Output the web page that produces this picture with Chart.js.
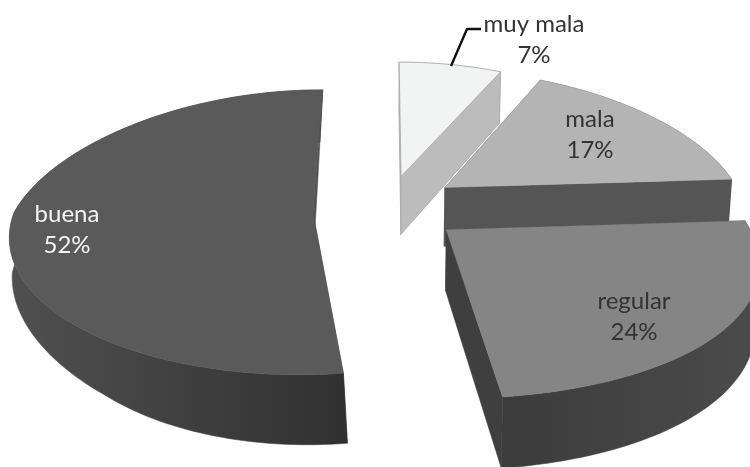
<!DOCTYPE html>
<html>
<head>
<meta charset="utf-8">
<style>html,body{margin:0;padding:0;background:#fff}canvas{display:block}</style>
<script src="https://cdn.jsdelivr.net/npm/chart.js@4"></script>
</head>
<body>
<canvas id="c" width="750" height="467"></canvas>
<script>
const categories = ['muy mala', 'mala', 'regular', 'buena'];
const percents = [7, 17, 24, 52];
const topColors = ['#f2f4f3', '#b4b4b4', '#858585', '#5a5a5a'];
const cutColors = ['#bcbcbc', '#555555', '#3e3f3e', '#515151'];
const wallLeft = ['#bcbcbc', '#555555', '#4b4b4b', '#505050'];
const wallRight = ['#bcbcbc', '#4a4a4a', '#3b3c3b', '#303130'];
const textColors = ['#333333', '#333333', '#333333', '#f4f4f4'];
const explode = [41, 43, 35, 43];
const nudgeX = [-8, -13, 2, 0];
const nudgeY = [0, -2, 0, 0];
const frontBulge = [0, 0, 0.08, 0];
const startCutUnderWall = [false, false, false, true];
const labelX = [534, 590, 634, 67];
const labelY = [24, 119, 301, 214];

// Camera of the tilted pie
const cam = {cx: 393, cy: 210, rx: 298, ry: 139, persp: 0.14, perspX: 0.08, depth: 60};

function lowScale(X, Y) {
  if (X >= 0) return 0.988;
  return 1 - Math.max(-0.04, Math.min(0.08, 0.114 * (Y - 0.06)));
}

function project(el, i, angle, down) {
  const d = el.options.offset / el.outerRadius;
  const mid = (el.startAngle + el.endAngle) / 2;
  const hasRim = angle !== null;
  const b = hasRim ? Math.sin(angle) : 0;
  const widen = 1 + cam.perspX * Math.min(b, 0) + frontBulge[i] * Math.max(b, 0);
  const rimX = hasRim ? Math.cos(angle) * widen : 0;
  const X = Math.cos(mid) * d + rimX;
  const Y = Math.sin(mid) * d + b;
  const w = 1 - cam.persp * Y;
  const sx = down ? lowScale(X, Y) : 1;
  return {
    x: cam.cx + sx * cam.rx * X / w + nudgeX[i],
    y: cam.cy + cam.ry * Y / w + (down ? cam.depth / w : 0) + nudgeY[i]
  };
}

function poly(ctx, pts, fill, stroke) {
  ctx.beginPath();
  pts.forEach((p, k) => k ? ctx.lineTo(p.x, p.y) : ctx.moveTo(p.x, p.y));
  ctx.closePath();
  ctx.fillStyle = fill;
  ctx.fill();
  ctx.strokeStyle = stroke || fill;
  ctx.lineWidth = stroke ? 0.8 : 0.5;
  ctx.stroke();
}

const pie3d = {
  id: 'pie3d',
  beforeDatasetsDraw(chart) {
    const ctx = chart.ctx;
    const arcs = chart.getDatasetMeta(0).data;
    ctx.save();
    ctx.lineJoin = 'round';
    [0, 1, 3, 2].forEach(i => {
      const el = arcs[i];
      const n = Math.max(8, Math.ceil((el.endAngle - el.startAngle) * 40));
      const rim = [];
      for (let k = 0; k <= n; k++) rim.push(el.startAngle + (el.endAngle - el.startAngle) * k / n);
      const apexTop = project(el, i, null, false);
      const apexLow = project(el, i, null, true);
      const edge = i === 0 ? '#a8a8a8' : null;
      const cut = a => poly(ctx, [apexTop, project(el, i, a, false), project(el, i, a, true), apexLow], cutColors[i], edge);
      if (startCutUnderWall[i]) cut(el.startAngle);
      // outer curved wall
      const up = rim.map(a => project(el, i, a, false));
      const low = rim.map(a => project(el, i, a, true));
      const xs = up.map(p => p.x);
      const g = ctx.createLinearGradient(Math.min(...xs), 0, Math.max(...xs), 0);
      const flip = i === 2;
      g.addColorStop(0, flip ? wallRight[i] : wallLeft[i]);
      g.addColorStop(1, flip ? wallLeft[i] : wallRight[i]);
      poly(ctx, up.concat(low.slice().reverse()), g);
      // flat cut faces
      if (!startCutUnderWall[i]) cut(el.startAngle);
      cut(el.endAngle);
      // top face
      poly(ctx, [apexTop].concat(up), topColors[i], edge);
    });
    // leader line of the smallest slice
    ctx.beginPath();
    ctx.moveTo(451, 66);
    ctx.lineTo(467, 29);
    ctx.lineTo(481, 29);
    ctx.strokeStyle = '#111';
    ctx.lineWidth = 2.4;
    ctx.stroke();
    // labels
    ctx.font = '24px Lato, "Open Sans", sans-serif';
    ctx.textAlign = 'center';
    ctx.textBaseline = 'middle';
    categories.forEach((name, i) => {
      ctx.fillStyle = textColors[i];
      ctx.fillText(name, labelX[i], labelY[i]);
      ctx.fillText(percents[i] + '%', labelX[i], labelY[i] + 31);
    });
    ctx.restore();
    return false;
  }
};

new Chart(document.getElementById('c'), {
  type: 'pie',
  data: {
    labels: categories,
    datasets: [{
      data: percents,
      backgroundColor: topColors,
      borderWidth: 0,
      offset: explode,
      radius: 160
    }]
  },
  options: {
    responsive: false,
    animation: false,
    rotation: 0,
    events: [],
    plugins: {legend: {display: false}, tooltip: {enabled: false}}
  },
  plugins: [pie3d]
});
</script>
</body>
</html>
